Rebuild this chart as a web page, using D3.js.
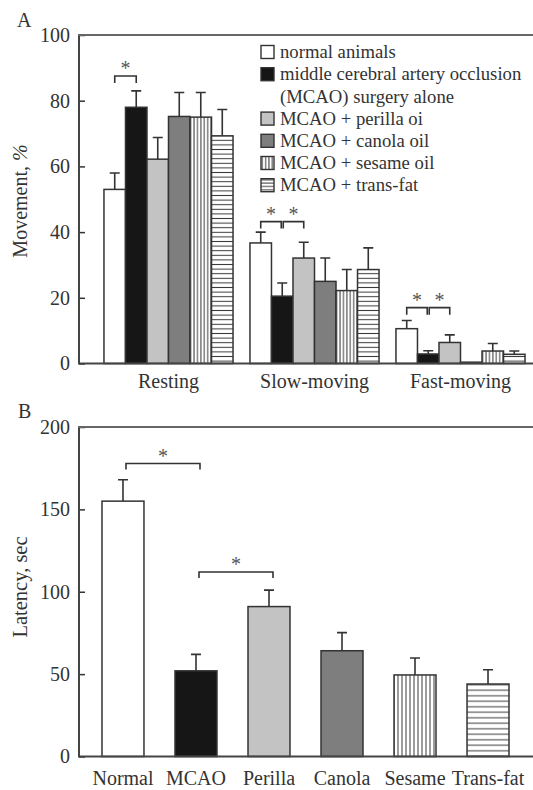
<!DOCTYPE html>
<html><head><meta charset="utf-8">
<script src="https://cdn.jsdelivr.net/npm/d3@7"></script>
<style>body{margin:0;background:#fff} svg{display:block}</style>
</head><body>
<svg id="c" width="533" height="790"></svg>
<script>
// ---------- data ----------
const groups = ["Resting", "Slow-moving", "Fast-moving"];
const series = ["normal", "mcao", "perilla", "canola", "sesame", "transfat"];
const legendLabels = [["normal animals"], ["middle cerebral artery occlusion", "(MCAO) surgery alone"],
  ["MCAO + perilla oi"], ["MCAO + canola oil"], ["MCAO + sesame oil"], ["MCAO + trans-fat"]];
const restingMean = [53, 78, 62.2, 75.2, 75, 69.3];
const restingErr  = [5, 5, 6.6, 7.3, 7.5, 8];
const slowMean    = [36.7, 20.5, 32.1, 25, 22.2, 28.6];
const slowErr     = [3.3, 4, 4.8, 7.1, 6.4, 6.6];
const fastMean    = [10.6, 2.9, 6.4, 0.4, 3.8, 2.8];
const fastErr     = [2.5, 1, 2.3, 0, 2.3, 1];
const movementTicks = [0, 20, 40, 60, 80, 100];
// significance: [group index, from series, to series, bracket level]
const movementSig = [[0, 0, 1, 87.5], [1, 0, 1, 43.2], [1, 1, 2, 43.2], [2, 0, 1, 17], [2, 1, 2, 17]];

const latencyCategories = ["Normal", "MCAO", "Perilla", "Canola", "Sesame", "Trans-fat"];
const latencyMean = [155, 52, 91, 64.2, 49.5, 44];
const latencyErr  = [13, 10, 10, 11, 10.3, 8.7];
const latencyTicks = [0, 50, 100, 150, 200];
const latencySig = [[0, 1, 177.8], [1, 2, 112]];

// ---------- styles ----------
const FONT = "'Liberation Serif','Times New Roman',serif";
const INK = "#333";
const fills = {normal: "#fff", mcao: "#161616", perilla: "#c3c3c3", canola: "#7e7e7e",
               sesame: "url(#vlinesA)", transfat: "url(#hlinesA)"};
const fillsB = Object.assign({}, fills, {sesame: "url(#vlinesB)", transfat: "url(#hlinesB)"});

const svg = d3.select("#c");
const defs = svg.append("defs");
function vPat(id, w) {
  const p = defs.append("pattern").attr("id", id).attr("patternUnits", "userSpaceOnUse")
    .attr("width", w).attr("height", 10);
  p.append("rect").attr("width", w).attr("height", 10).attr("fill", "#fff");
  p.append("line").attr("x1", w / 2).attr("x2", w / 2).attr("y1", 0).attr("y2", 10)
    .attr("stroke", "#3a3a3a").attr("stroke-width", 1);
}
function hPat(id, h) {
  const p = defs.append("pattern").attr("id", id).attr("patternUnits", "userSpaceOnUse")
    .attr("width", 10).attr("height", h);
  p.append("rect").attr("width", 10).attr("height", h).attr("fill", "#fff");
  p.append("line").attr("y1", h / 2).attr("y2", h / 2).attr("x1", 0).attr("x2", 10)
    .attr("stroke", "#3a3a3a").attr("stroke-width", 1);
}
vPat("vlinesA", 3.4); hPat("hlinesA", 4.6);
vPat("vlinesB", 4); hPat("hlinesB", 5.5);
vPat("vlinesL", 3.3); hPat("hlinesL", 3.3);

function star(g, x, y) {
  g.append("text").attr("x", x).attr("y", y).attr("text-anchor", "middle")
    .attr("font-family", FONT).attr("font-size", 20).attr("fill", "#555").text("*");
}
function bracket(g, x1, x2, y, leg) {
  g.append("path").attr("d", `M${x1},${y + leg}V${y}H${x2}V${y + leg}`)
    .attr("fill", "none").attr("stroke", INK).attr("stroke-width", 1.6);
  star(g, (x1 + x2) / 2, y - 1);
}
function styleAxis(g) {
  g.selectAll(".domain").remove();
  g.selectAll(".tick line").attr("stroke", INK).attr("stroke-width", 1.5);
  g.selectAll("text").attr("font-family", FONT).attr("font-size", 20).attr("fill", INK);
}

// ---------- Panel A ----------
const A = {left: 79, top: 35, bottom: 363.5, right: 533};
const yA = d3.scaleLinear().domain([0, 100]).range([A.bottom, A.top]);
const xA = d3.scaleBand().domain(groups).range([A.left, 550]).paddingInner(0.116).paddingOuter(0.171);
const xAi = d3.scaleBand().domain(series).range([0, xA.bandwidth()]).padding(0);
const movement = [restingMean, slowMean, fastMean].map((m, gi) => ({
  group: groups[gi], vals: series.map((s, si) => ({s, v: m[si], e: [restingErr, slowErr, fastErr][gi][si]}))
}));
const gA = svg.append("g");
const grp = gA.selectAll("g.grp").data(movement).join("g")
  .attr("transform", d => `translate(${xA(d.group)},0)`);
grp.selectAll("rect").data(d => d.vals).join("rect")
  .attr("x", d => xAi(d.s)).attr("width", xAi.bandwidth())
  .attr("y", d => yA(d.v)).attr("height", d => yA(0) - yA(d.v))
  .attr("fill", d => fills[d.s]).attr("stroke", INK).attr("stroke-width", 1.5);
grp.selectAll("path.err").data(d => d.vals.filter(v => v.e > 0)).join("path").attr("class", "err")
  .attr("d", d => {
    const cx = xAi(d.s) + xAi.bandwidth() / 2;
    return `M${cx},${yA(d.v)}V${yA(d.v + d.e)}M${cx - 5},${yA(d.v + d.e)}H${cx + 5}`;
  }).attr("fill", "none").attr("stroke", INK).attr("stroke-width", 1.6);

// axes A
gA.append("g").attr("transform", `translate(${A.left},0)`)
  .call(d3.axisLeft(yA).tickValues(movementTicks).tickSizeInner(-6).tickSizeOuter(0).tickPadding(9))
  .call(styleAxis);
gA.append("g").attr("transform", `translate(0,${A.bottom})`)
  .call(d3.axisBottom(xA).tickSize(0).tickPadding(10))
  .call(styleAxis);
gA.append("line").attr("x1", A.left).attr("x2", A.left).attr("y1", A.top).attr("y2", A.bottom)
  .attr("stroke", "#444").attr("stroke-width", 2);
gA.append("line").attr("x1", A.left - 1).attr("x2", A.right).attr("y1", A.bottom).attr("y2", A.bottom)
  .attr("stroke", "#444").attr("stroke-width", 2);
gA.append("line").attr("x1", A.left - 1).attr("x2", A.right).attr("y1", A.top).attr("y2", A.top)
  .attr("stroke", "#666").attr("stroke-width", 2);

movementSig.forEach(([gi, a, b, lvl]) => {
  const x0 = xA(groups[gi]);
  const c = s => x0 + xAi(series[s]) + xAi.bandwidth() / 2;
  bracket(gA, c(a) + (a === 1 ? 1 : 0), c(b) - (a === 0 && movementSig.some(m => m[0] === gi && m[1] === 1) ? 1 : 0), yA(lvl), 7);
});

// legend
const leg = gA.append("g");
let line = 0;
legendLabels.forEach((labs, i) => {
  const cy = 52 + line * 22.2;
  const fillL = series[i] === "sesame" ? "url(#vlinesL)" : series[i] === "transfat" ? "url(#hlinesL)" : fills[series[i]];
  leg.append("rect").attr("x", 261).attr("y", cy - 6.5).attr("width", 13).attr("height", 13)
    .attr("fill", fillL).attr("stroke", INK).attr("stroke-width", 1.4);
  labs.forEach((t, j) => {
    leg.append("text").attr("x", 280).attr("y", cy + j * 22.2).attr("dy", "0.33em")
      .attr("font-family", FONT).attr("font-size", 18.7).attr("fill", INK).text(t);
  });
  line += labs.length;
});

// titles A
svg.append("text").attr("transform", "translate(27,201) rotate(-90)").attr("text-anchor", "middle")
  .attr("font-family", FONT).attr("font-size", 20).attr("fill", INK)
  .call(t => { t.append("tspan").text("Movement, "); t.append("tspan").attr("font-style", "italic").text("%"); });
svg.append("text").attr("x", 17).attr("y", 27).attr("font-family", FONT).attr("font-size", 20)
  .attr("fill", INK).text("A");

// ---------- Panel B ----------
const B = {left: 79, top: 427, bottom: 756.5, right: 533};
const yB = d3.scaleLinear().domain([0, 200]).range([B.bottom, B.top]);
const xB = d3.scaleBand().domain(latencyCategories).range([B.left, 532]).paddingInner(0.425).paddingOuter(0.315);
const latency = latencyCategories.map((c, i) => ({c, s: series[i], v: latencyMean[i], e: latencyErr[i]}));
const gB = svg.append("g");
gB.selectAll("rect").data(latency).join("rect")
  .attr("x", d => xB(d.c)).attr("width", xB.bandwidth())
  .attr("y", d => yB(d.v)).attr("height", d => yB(0) - yB(d.v))
  .attr("fill", d => fillsB[d.s]).attr("stroke", INK).attr("stroke-width", 1.5);
gB.selectAll("path.err").data(latency).join("path").attr("class", "err")
  .attr("d", d => {
    const cx = xB(d.c) + xB.bandwidth() / 2;
    return `M${cx},${yB(d.v)}V${yB(d.v + d.e)}M${cx - 5},${yB(d.v + d.e)}H${cx + 5}`;
  }).attr("fill", "none").attr("stroke", INK).attr("stroke-width", 1.6);

gB.append("g").attr("transform", `translate(${B.left},0)`)
  .call(d3.axisLeft(yB).tickValues(latencyTicks).tickSizeInner(-6).tickSizeOuter(0).tickPadding(9))
  .call(styleAxis);
gB.append("g").attr("transform", `translate(0,${B.bottom})`)
  .call(d3.axisBottom(xB).tickSize(0).tickPadding(14))
  .call(styleAxis);
gB.append("line").attr("x1", B.left).attr("x2", B.left).attr("y1", B.top).attr("y2", B.bottom)
  .attr("stroke", "#444").attr("stroke-width", 2);
gB.append("line").attr("x1", B.left - 1).attr("x2", B.right).attr("y1", B.bottom).attr("y2", B.bottom)
  .attr("stroke", "#444").attr("stroke-width", 2);
gB.append("line").attr("x1", B.left - 1).attr("x2", B.right).attr("y1", B.top).attr("y2", B.top)
  .attr("stroke", "#666").attr("stroke-width", 2);

latencySig.forEach(([a, b, lvl]) => {
  const c = i => xB(latencyCategories[i]) + xB.bandwidth() / 2;
  bracket(gB, c(a) + 3, c(b) + 4, yB(lvl), 6);
});

svg.append("text").attr("transform", "translate(27,587) rotate(-90)").attr("text-anchor", "middle")
  .attr("font-family", FONT).attr("font-size", 20.5).attr("fill", INK).text("Latency, sec");
svg.append("text").attr("x", 18).attr("y", 418).attr("font-family", FONT).attr("font-size", 20)
  .attr("fill", INK).text("B");
</script>
</body></html>
